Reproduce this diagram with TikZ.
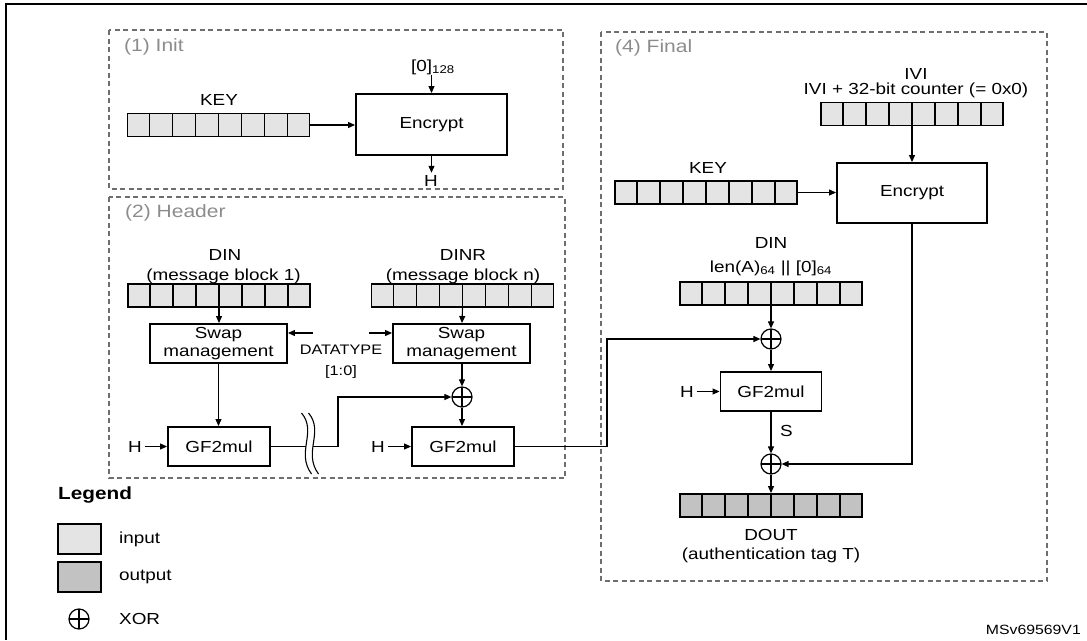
\documentclass[tikz,border=0pt]{standalone}
\usepackage{fontspec}
\setmainfont[FakeStretch=1.18]{Liberation Sans}
\usetikzlibrary{arrows.meta,calc}
\definecolor{ingray}{HTML}{E4E4E4}
\definecolor{outgray}{HTML}{C2C2C2}
\definecolor{dashgray}{HTML}{6E6E6E}
\definecolor{lblgray}{HTML}{8C8C8C}
\newcommand\regcells[1]{\foreach \i in {1,...,7}{\draw[line width=1.7pt] ($(#1.south west)!\i/8!(#1.south east)$) -- ($(#1.north west)!\i/8!(#1.north east)$);}}
\begin{document}
\begin{tikzpicture}[x=1pt,y=-1pt,
  font=\fontsize{16}{17.5}\selectfont,
  >={Triangle[length=7pt,width=6pt]},
  conn/.style={line width=1.1pt,->},
  plain/.style={line width=1.1pt},
  blk/.style={draw,line width=1.9pt,inner sep=0pt,align=center},
  swapbox/.style={blk,minimum width=137pt,minimum height=39pt},
  gfbox/.style={blk,minimum width=102pt,minimum height=39pt},
  reg/.style={draw,line width=1.9pt,fill=ingray,minimum width=182pt,minimum height=23pt,inner sep=0pt},
  oreg/.style={reg,fill=outgray},
  xorn/.style={circle,draw,line width=1.2pt,minimum size=20pt,inner sep=0pt,
    path picture={\draw[line width=1.2pt] (path picture bounding box.north) -- (path picture bounding box.south) (path picture bounding box.west) -- (path picture bounding box.east);}},
  section/.style={draw=dashgray,line width=1.2pt,dash pattern=on 5pt off 3.5pt},
  seclabel/.style={anchor=west,text=lblgray,font=\fontsize{17.8}{20}\selectfont,inner sep=0pt},
  hlbl/.style={inner sep=2.5pt},
  lbl/.style={inner sep=0pt}
]
\useasboundingbox (0,0) rectangle (1087,640);
% frame
\draw[line width=2pt] (1087,4) -- (6,4) -- (6,640);
% section boxes
\draw[section] (109,30) rectangle (563,189);
\draw[section] (109,197) rectangle (565,478);
\draw[section] (601,32) rectangle (1047,581);
\node[seclabel] (s1) at (124,47) {(1) Init};
\node[seclabel] (s2) at (125,213) {(2) Header};
\node[seclabel] (s4) at (615,48) {(4) Final};

% ---------- Init
\node[reg] (key1) at (218.5,125) {};
\regcells{key1}
\node[lbl] (key1l) at (219,100) {KEY};
\node[blk,minimum width=151pt,minimum height=61pt] (enc1) at (431.5,124.5) {Encrypt};
\node[lbl] (z128) at (433,67) {[0]\textsubscript{128}};
\node[hlbl] (h0) at (431,181) {H};
\draw[conn] (key1.east) -- (key1.east -| enc1.west);
\draw[conn] (enc1.north |- z128.south) -- (enc1.north);
\draw[conn] (enc1.south) -- (enc1.south |- h0.north);

% ---------- Header
\node[lbl] (dinl) at (225,255) {DIN};
\node[lbl] (dinl2) at (223.5,276) {(message block 1)};
\node[reg] (din) at (219,295.5) {};
\regcells{din}
\node[swapbox] (sw1) at (218.5,343.5) {Swap\\management};
\node[gfbox] (gf1) at (219,446.5) {GF2mul};
\node[hlbl] (h1) at (135,446.5) {H};

\node[lbl] (dinrl) at (463,255) {DINR};
\node[lbl] (dinrl2) at (463,276) {(message block n)};
\node[reg] (dinr) at (462.5,295.5) {};
\regcells{dinr}
\node[swapbox] (sw2) at (461.5,343.5) {Swap\\management};
\node[xorn] (x1) at (462,397) {};
\node[gfbox] (gf2) at (463,446.5) {GF2mul};
\node[hlbl] (h2) at (378,446.5) {H};

\node[lbl,align=center,font=\fontsize{13.8}{21}\selectfont] (dt) at (341,362) {DATATYPE\\{[1:0]}};
\coordinate (dta) at (313,333);
\coordinate (dtb) at (369,333);
\draw[conn] (dta) -- (dta -| sw1.east);
\draw[conn] (dtb) -- (dtb -| sw2.west);

\draw[conn] (din.south) -- (din.south |- sw1.north);
\draw[conn] (sw1.south) -- (sw1.south |- gf1.north);
\draw[conn] (h1.east) -- (h1.east -| gf1.west);
\draw[conn] (dinr.south) -- (x1.north |- sw2.north);
\draw[conn] (x1.north |- sw2.south) -- (x1.north);
\draw[conn] (x1.south) -- (x1.south |- gf2.north);
\draw[conn] (h2.east) -- (h2.east -| gf2.west);
\coordinate (bend1) at (338,397);
\draw[conn] (gf1.east) -| (bend1) -- (x1.west);
% break symbol
\draw[white,line width=7pt] (305,413) .. controls (321,432) and (299,452) .. (315,474);
\draw[plain] (301.5,413) .. controls (317.5,432) and (295.5,452) .. (311.5,474);
\draw[plain] (308.5,413) .. controls (324.5,432) and (302.5,452) .. (318.5,474);

% ---------- Final
\node[lbl,anchor=base] (ivil) at (916,79) {IVI};
\node[lbl,anchor=base] (ivil2) at (916,94) {IVI + 32-bit counter (= 0x0)};
\node[reg] (ivi) at (912,114) {};
\regcells{ivi}
\node[blk,minimum width=150pt,minimum height=60pt] (enc2) at (912,193) {Encrypt};
\node[lbl] (key2l) at (708,168) {KEY};
\node[reg] (key2) at (706,192.5) {};
\regcells{key2}
\node[lbl] (din2l) at (771,243) {DIN};
\node[lbl] (din2l2) at (771,268) {len(A)\textsubscript{64} || [0]\textsubscript{64}};
\node[reg] (din2) at (771,293.5) {};
\regcells{din2}
\node[xorn] (x2) at (771,339) {};
\node[gfbox,minimum width=101pt] (gf3) at (771,391.5) {GF2mul};
\node[hlbl] (h3) at (687,391.5) {H};
\node[xorn] (x3) at (771,464) {};
\node[lbl,anchor=west] (slbl) at (780,431) {S};
\node[oreg] (dout) at (771,505.5) {};
\regcells{dout}
\node[lbl] (doutl) at (771,535) {DOUT};
\node[lbl] (doutl2) at (771,555) {(authentication tag T)};

\draw[conn] (ivi.south) -- (enc2.north);
\draw[conn] (key2.east) -- (key2.east -| enc2.west);
\draw[conn] (din2.south) -- (x2.north);
\draw[conn] (x2.south) -- (gf3.north);
\draw[conn] (h3.east) -- (h3.east -| gf3.west);
\draw[conn] (gf3.south) -- (x3.north);
\draw[conn] (x3.south) -- (dout.north);
\draw[conn] (enc2.south) |- (x3.east);
\coordinate (bend2) at (607,339);
\draw[conn] (gf2.east) -| (bend2) -- (x2.west);

% ---------- Legend
\node[lbl,anchor=west,font=\bfseries\fontsize{17.6}{20}\selectfont] (leg) at (58,495) {Legend};
\node[draw,line width=1.5pt,fill=ingray,minimum width=43pt,minimum height=30pt,inner sep=0pt] (legin) at (79.5,539) {};
\node[lbl,anchor=west] (legint) at (119,539) {input};
\node[draw,line width=1.5pt,fill=outgray,minimum width=43pt,minimum height=30pt,inner sep=0pt] (legout) at (79.5,577) {};
\node[lbl,anchor=west] (legoutt) at (119,577) {output};
\node[xorn] (legx) at (79,619) {};
\node[lbl,anchor=west] (legxt) at (119,619) {XOR};

\node[lbl,anchor=east,font=\fontsize{13.4}{15}\selectfont] (msv) at (1081,630) {MSv69569V1};
\end{tikzpicture}
\end{document}
